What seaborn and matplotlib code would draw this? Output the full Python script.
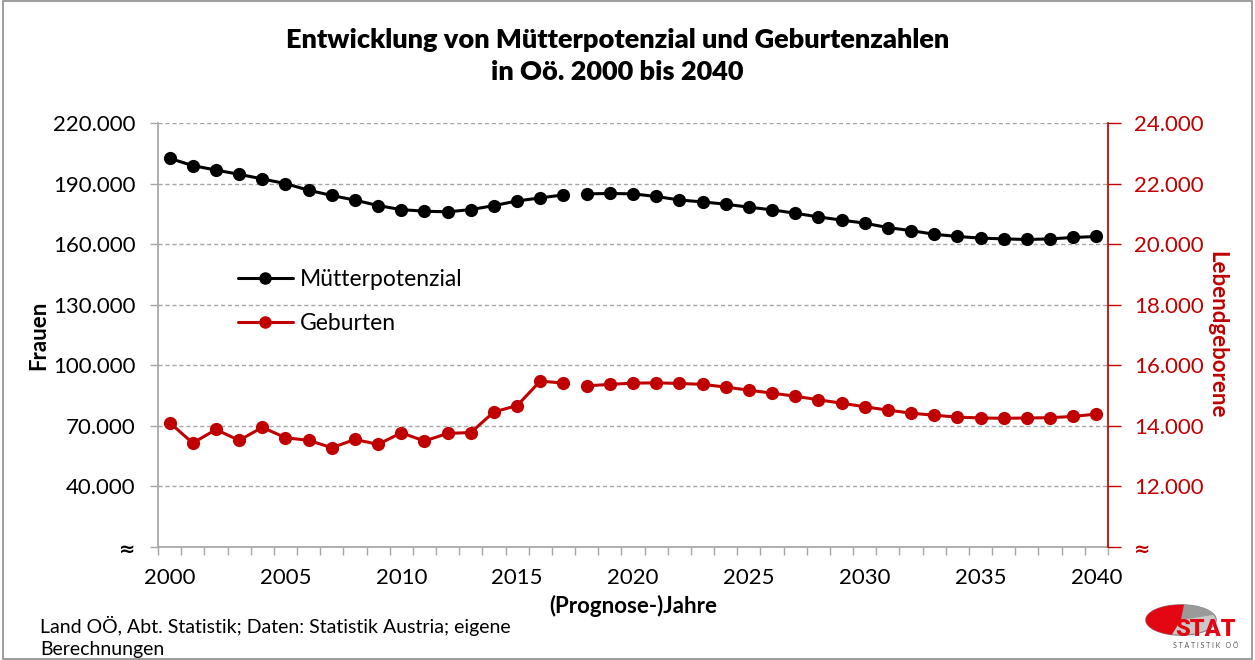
import pandas as pd
import seaborn as sns
import matplotlib.pyplot as plt
from matplotlib.lines import Line2D
from matplotlib.patches import Rectangle, Wedge

# =========================
# Data
# =========================
years = list(range(2000, 2041))

# Mütterpotenzial (Frauen, left axis)
muetter = [202500, 198900, 196700, 194600, 192300, 190000, 186700, 184100, 181800, 179100,
           177100, 176300, 176000, 177100, 179100, 181400, 182900, 184400,
           184900, 185100, 184900, 183600, 181900, 180900, 179800, 178300, 177000, 175300,
           173500, 171900, 170400, 168200, 166700, 164900, 163800, 163000, 162600, 162300,
           162600, 163300, 163800]

# Geburten (Lebendgeborene, right axis)
geburten = [14110, 13430, 13880, 13520, 13950, 13610, 13520, 13280, 13550, 13390,
            13770, 13500, 13750, 13780, 14460, 14670, 15480, 15410,
            15320, 15370, 15410, 15420, 15400, 15370, 15280, 15180, 15080, 14980,
            14860, 14750, 14630, 14520, 14420, 14350, 14290, 14260, 14250, 14260,
            14270, 14310, 14390]

# observed until 2017, prognosis from 2018 (line is broken there)
segment = ["Daten" if y <= 2017 else "Prognose" for y in years]

left_ticks = [10000, 40000, 70000, 100000, 130000, 160000, 190000, 220000]
right_ticks = [10000, 12000, 14000, 16000, 18000, 20000, 22000, 24000]
xtick_years = [2000, 2005, 2010, 2015, 2020, 2025, 2030, 2035, 2040]

df = pd.DataFrame({"Jahr": years, "Muetter": muetter, "Geburten": geburten, "Segment": segment})

RED = "#C00000"
GRID = "#A6A6A6"


def fmt(v):
    # German thousands separator, lowest tick is an axis break
    if v == 10000:
        return "≈"
    return f"{v:,.0f}".replace(",", ".")


# =========================
# Plot
# =========================
sns.set_theme(style="white")
plt.rcParams["font.family"] = ["Lato", "DejaVu Sans"]
plt.rcParams["text.color"] = "black"
plt.rcParams["axes.labelcolor"] = "black"
plt.rcParams["xtick.color"] = "black"
plt.rcParams["ytick.color"] = "black"

fig = plt.figure(figsize=(12.55, 6.6), dpi=100)
ax = fig.add_axes([158 / 1255, 1 - 547 / 660, 950 / 1255, 424 / 660])
ax2 = ax.twinx()

sns.lineplot(data=df, x="Jahr", y="Muetter", units="Segment", estimator=None,
             color="black", marker="o", markersize=9.5, linewidth=2.2,
             markeredgewidth=0, ax=ax, zorder=3)
sns.lineplot(data=df, x="Jahr", y="Geburten", units="Segment", estimator=None,
             color=RED, marker="o", markersize=9.5, linewidth=2.2,
             markeredgewidth=0, ax=ax2, zorder=3)

# x axis: categories centred, tick marks between categories
ax.set_xlim(1999.5, 2040.5)
ax.set_xticks(xtick_years)
ax.set_xticklabels([str(y) for y in xtick_years], fontsize=16)
ax.set_xticks([y - 0.5 for y in years] + [2040.5], minor=True)
ax.tick_params(axis="x", which="major", length=0, pad=15)
ax.tick_params(axis="x", which="minor", length=6, width=1, color=GRID, direction="out", bottom=True)

# left axis
ax.set_ylim(10000, 220000)
ax.set_yticks(left_ticks)
ax.set_yticklabels([fmt(v) for v in left_ticks], fontsize=16)
ax.tick_params(axis="y", length=6, width=1, color=GRID, direction="out", left=True, pad=10)
ax.yaxis.grid(True, linestyle=(0, (3, 2)), color=GRID, linewidth=1)
ax.set_axisbelow(True)

# right axis
ax2.set_ylim(10000, 24000)
ax2.set_yticks(right_ticks)
ax2.set_yticklabels([fmt(v) for v in right_ticks], fontsize=16, color=RED)
ax2.tick_params(axis="y", length=9, width=1, color=RED, direction="out", right=True, pad=10)

# the axis-break sign is drawn bold
for lab in [ax.get_yticklabels()[0], ax2.get_yticklabels()[0]]:
    lab.set_fontsize(14)
    lab.set_fontweight("bold")
    lab.set_family(["DejaVu Sans"])

for a in (ax, ax2):
    for s in a.spines.values():
        s.set_visible(False)
ax.spines["left"].set_visible(True)
ax.spines["left"].set_color(GRID)
ax.spines["bottom"].set_visible(True)
ax.spines["bottom"].set_color(GRID)
ax2.spines["right"].set_visible(True)
ax2.spines["right"].set_color(RED)

ax.set_xlabel("(Prognose-)Jahre", fontsize=16, fontweight="bold", labelpad=5)
ax.set_ylabel("Frauen", fontsize=16, fontweight="bold", labelpad=3)
ax2.set_ylabel("Lebendgeborene", fontsize=16, fontweight="bold", color=RED,
               rotation=-90, labelpad=17)

# legend
handles = [
    Line2D([], [], color="black", marker="o", markersize=9, linewidth=2.2, markeredgewidth=0),
    Line2D([], [], color=RED, marker="o", markersize=9, linewidth=2.2, markeredgewidth=0),
]
ax.legend(handles, ["Mütterpotenzial", "Geburten"], loc="center left",
          bbox_to_anchor=(0.062, 0.578), frameon=False, fontsize=16.5,
          handlelength=2.4, handletextpad=0.3, labelspacing=1.0)

# title
fig.text(0.492, 1 - 56 / 660, "Entwicklung von Mütterpotenzial und Geburtenzahlen\nin Oö. 2000 bis 2040",
         ha="center", va="center", fontsize=19.5, fontweight="heavy", linespacing=1.4)

# source
fig.text(40 / 1255, 1 - 637 / 660,
         "Land OÖ, Abt. Statistik; Daten: Statistik Austria; eigene\nBerechnungen",
         ha="left", va="center", fontsize=14, linespacing=1.35)

# STAT logo (rough sketch): flat ellipse with red sector, text below right
logo = fig.add_axes([1144 / 1255, 1 - 636 / 660, 74 / 1255, 32 / 660])
logo.set_xlim(-1.05, 1.05)
logo.set_ylim(-1.05, 1.05)
logo.axis("off")
logo.add_patch(Wedge((0, 0), 1, 0, 360, facecolor="#C8C8C8", edgecolor="#808080", lw=0.8))
logo.add_patch(Wedge((0, 0), 1, 20, 85, facecolor="#9A9A9A", edgecolor="none"))
logo.add_patch(Wedge((0, 0), 1, 85, 255, facecolor="#E30613", edgecolor="none"))
fig.text(1206 / 1255, 1 - 630 / 660, "STAT", color="#E30613", fontsize=17, fontweight="heavy",
         ha="center", va="center", family=["Roboto", "DejaVu Sans"])
fig.text(1206 / 1255, 1 - 646 / 660, "S T A T I S T I K   O Ö", color="#595959", fontsize=5,
         ha="center", va="center")

# frame around figure
fig.add_artist(Rectangle((0.002, 0.002), 0.996, 0.996, transform=fig.transFigure,
                         fill=False, edgecolor="#8C8C8C", lw=1.2))

fig.savefig("out.png", dpi=100)
